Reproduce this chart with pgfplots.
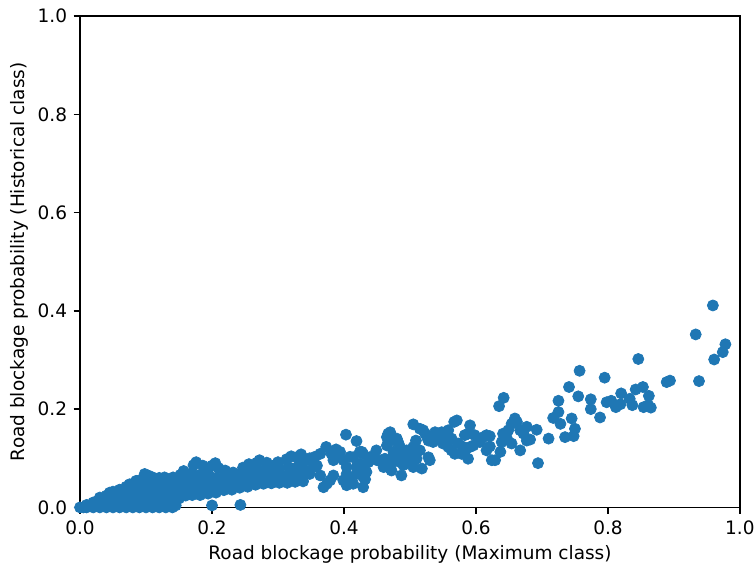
\documentclass[border=0pt]{standalone}
\usepackage{pgfplots}
\pgfplotsset{compat=1.18}
\usepackage{fontspec}
\setmainfont{DejaVu Sans}
\definecolor{mplblue}{HTML}{1F77B4}
\pgfplotstableread{
x y
0.000 0.000
0.005 0.000
0.010 0.000
0.010 0.005
0.015 0.003
0.020 0.000
0.020 0.010
0.025 0.012
0.030 0.000
0.030 0.010
0.030 0.020
0.035 0.018
0.040 0.000
0.040 0.012
0.040 0.024
0.045 0.030
0.050 0.000
0.050 0.012
0.050 0.024
0.050 0.032
0.055 0.006
0.060 0.000
0.060 0.012
0.060 0.024
0.060 0.036
0.065 0.030
0.070 0.000
0.070 0.012
0.070 0.024
0.070 0.036
0.070 0.042
0.075 0.047
0.080 0.000
0.080 0.012
0.080 0.024
0.080 0.036
0.080 0.048
0.085 0.054
0.090 0.000
0.090 0.012
0.090 0.024
0.090 0.036
0.090 0.048
0.090 0.055
0.098 0.068
0.100 0.000
0.100 0.012
0.100 0.024
0.100 0.036
0.100 0.048
0.100 0.060
0.105 0.064
0.110 0.000
0.110 0.012
0.110 0.024
0.110 0.036
0.110 0.048
0.112 0.060
0.120 0.000
0.120 0.012
0.120 0.024
0.120 0.036
0.120 0.048
0.120 0.060
0.128 0.061
0.130 0.000
0.130 0.012
0.130 0.024
0.130 0.036
0.130 0.048
0.140 0.000
0.140 0.012
0.140 0.024
0.140 0.036
0.140 0.048
0.141 0.061
0.145 0.004
0.150 0.018
0.150 0.030
0.150 0.042
0.150 0.055
0.152 0.066
0.157 0.074
0.160 0.024
0.160 0.036
0.160 0.048
0.160 0.060
0.170 0.025
0.170 0.040
0.170 0.055
0.170 0.070
0.172 0.086
0.176 0.092
0.182 0.025
0.182 0.038
0.182 0.052
0.182 0.066
0.186 0.085
0.194 0.028
0.194 0.042
0.194 0.056
0.194 0.070
0.200 0.085
0.200 0.004
0.205 0.090
0.206 0.030
0.206 0.045
0.206 0.060
0.210 0.080
0.218 0.035
0.218 0.048
0.218 0.062
0.220 0.075
0.230 0.036
0.230 0.050
0.230 0.063
0.232 0.071
0.243 0.005
0.242 0.040
0.242 0.054
0.242 0.068
0.247 0.081
0.254 0.042
0.254 0.055
0.254 0.068
0.256 0.088
0.258 0.080
0.266 0.046
0.266 0.060
0.266 0.075
0.268 0.091
0.272 0.096
0.278 0.048
0.278 0.062
0.278 0.076
0.283 0.091
0.290 0.049
0.290 0.063
0.290 0.077
0.295 0.086
0.300 0.092
0.302 0.050
0.302 0.064
0.302 0.080
0.313 0.098
0.314 0.050
0.314 0.065
0.316 0.082
0.320 0.104
0.326 0.052
0.326 0.066
0.326 0.080
0.328 0.102
0.333 0.089
0.335 0.108
0.338 0.053
0.338 0.066
0.341 0.075
0.343 0.095
0.348 0.068
0.348 0.100
0.354 0.082
0.356 0.103
0.359 0.085
0.364 0.065
0.364 0.109
0.369 0.041
0.373 0.123
0.374 0.048
0.379 0.055
0.381 0.109
0.384 0.065
0.384 0.096
0.388 0.118
0.391 0.109
0.394 0.113
0.399 0.055
0.399 0.096
0.403 0.148
0.404 0.082
0.404 0.068
0.404 0.045
0.409 0.055
0.409 0.103
0.414 0.048
0.414 0.102
0.419 0.135
0.419 0.082
0.419 0.068
0.424 0.089
0.424 0.113
0.427 0.113
0.429 0.109
0.429 0.082
0.429 0.075
0.429 0.062
0.429 0.041
0.432 0.057
0.434 0.072
0.437 0.092
0.439 0.102
0.442 0.103
0.449 0.116
0.450 0.096
0.452 0.096
0.460 0.082
0.460 0.096
0.462 0.099
0.465 0.143
0.465 0.126
0.467 0.150
0.470 0.153
0.470 0.089
0.470 0.079
0.472 0.075
0.472 0.092
0.475 0.106
0.475 0.113
0.477 0.136
0.480 0.140
0.480 0.102
0.482 0.133
0.485 0.123
0.485 0.109
0.485 0.092
0.487 0.065
0.490 0.116
0.490 0.086
0.492 0.102
0.495 0.116
0.500 0.096
0.505 0.169
0.505 0.123
0.505 0.082
0.507 0.109
0.509 0.136
0.510 0.099
0.512 0.116
0.515 0.160
0.515 0.116
0.518 0.079
0.520 0.157
0.523 0.150
0.526 0.143
0.528 0.136
0.528 0.102
0.530 0.143
0.530 0.096
0.535 0.133
0.538 0.153
0.543 0.150
0.545 0.140
0.548 0.153
0.550 0.130
0.556 0.143
0.558 0.157
0.558 0.123
0.563 0.140
0.563 0.116
0.567 0.174
0.568 0.109
0.571 0.177
0.573 0.130
0.578 0.109
0.581 0.123
0.583 0.147
0.583 0.113
0.588 0.150
0.588 0.099
0.591 0.167
0.591 0.123
0.596 0.126
0.598 0.147
0.604 0.136
0.606 0.133
0.611 0.143
0.616 0.147
0.616 0.116
0.621 0.145
0.621 0.124
0.624 0.096
0.629 0.096
0.635 0.206
0.637 0.113
0.639 0.133
0.641 0.150
0.642 0.223
0.647 0.140
0.649 0.157
0.654 0.170
0.654 0.130
0.659 0.181
0.662 0.174
0.667 0.157
0.667 0.116
0.672 0.150
0.677 0.164
0.677 0.136
0.682 0.138
0.692 0.158
0.694 0.090
0.710 0.140
0.717 0.182
0.725 0.217
0.725 0.194
0.728 0.170
0.735 0.143
0.741 0.245
0.745 0.181
0.748 0.145
0.750 0.160
0.755 0.226
0.757 0.278
0.774 0.220
0.774 0.200
0.788 0.183
0.795 0.264
0.798 0.214
0.805 0.217
0.812 0.204
0.819 0.210
0.820 0.232
0.833 0.221
0.837 0.208
0.842 0.240
0.846 0.302
0.853 0.245
0.854 0.204
0.861 0.208
0.862 0.227
0.865 0.203
0.889 0.255
0.894 0.258
0.933 0.352
0.938 0.257
0.959 0.411
0.961 0.301
0.974 0.316
0.978 0.332
}\datatable
\begin{document}
\begin{tikzpicture}
\begin{axis}[
  width=357pt, height=265.8pt, scale only axis,
  xmin=0, xmax=1, ymin=0, ymax=1,
  xtick={0,0.2,0.4,0.6,0.8,1.0},
  ytick={0,0.2,0.4,0.6,0.8,1.0},
  xtick pos=left, ytick pos=left,
  tick align=outside,
  major tick length=3.5pt,
  every tick/.style={black, line width=0.8pt},
  axis line style={line width=0.8pt},
  /pgf/number format/assume math mode=true,
  /pgf/number format/.cd, fixed, fixed zerofill, precision=1, /pgfplots/.cd,
  tick label style={font=\fontsize{10}{12}\selectfont},
  label style={font=\fontsize{10}{12}\selectfont},
  xlabel={Road blockage probability (Maximum class)},
  ylabel={Road blockage probability (Historical class)},
  xlabel style={yshift=1pt},
  ylabel style={yshift=-2pt},
]
\addplot[only marks, mark=*, mark size=3pt, color=mplblue, mark options={fill=mplblue, draw=mplblue}] table[x=x,y=y] {\datatable};
\end{axis}
\pgfresetboundingbox
\path[use as bounding box] ([xshift=-43.3pt,yshift=-31.9pt]current axis.south west) rectangle ([xshift=8.7pt,yshift=8.7pt]current axis.north east);
\end{tikzpicture}
\end{document}
